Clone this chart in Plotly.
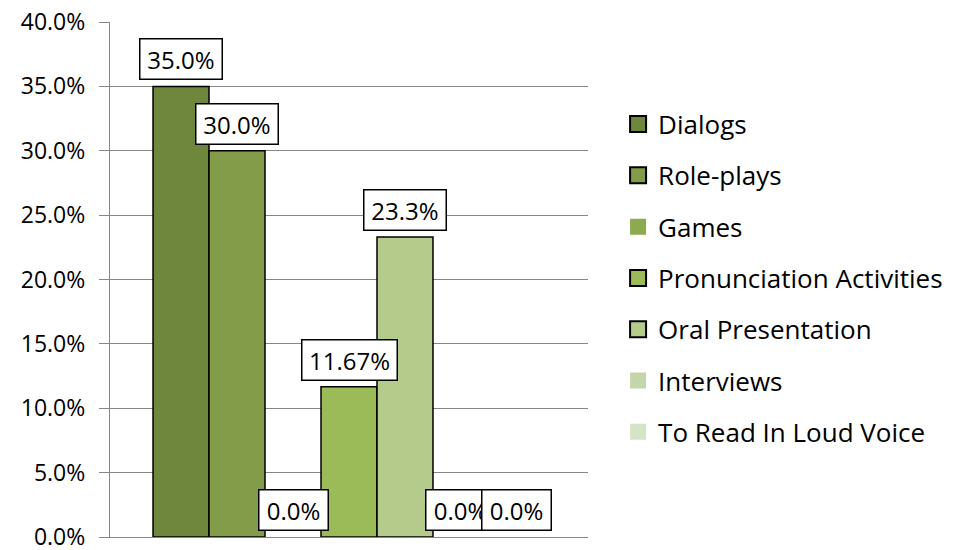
import plotly.graph_objects as go

series = ["Dialogs", "Role-plays", "Games", "Pronunciation Activities",
          "Oral Presentation", "Interviews", "To Read In Loud Voice"]
values = [0.35, 0.30, 0.0, 0.1167, 0.233, 0.0, 0.0]
labels = ["35.0%", "30.0%", "0.0%", "11.67%", "23.3%", "0.0%", "0.0%"]
colors = ["#6F863D", "#829C4A", "#8DAA50", "#9BBB59", "#B4CB8C", "#C4D5AA", "#D7E3C7"]
outlined = [True, True, False, True, True, False, False]

FONT = "Open Sans"
bargap = 0.18
n = len(series)
group_w = 1 - bargap

fig = go.Figure()
for i, (name, v, c, o) in enumerate(zip(series, values, colors, outlined)):
    line = dict(color="#000000", width=1.5 if o else 0)
    fig.add_trace(go.Bar(
        x=[0], y=[v], name=name, marker=dict(color=c, line=line),
        legendgroup=name, showlegend=False,
    ))
    # legend entry with a larger square swatch
    fig.add_trace(go.Scatter(
        x=[None], y=[None], name=name, mode="markers", legendgroup=name,
        marker=dict(symbol="square", size=16, color=c,
                    line=dict(color="#000000", width=2 if o else 0)),
        showlegend=True,
    ))

annotations = []
for i, (v, lab) in enumerate(zip(values, labels)):
    xc = -group_w / 2 + (i + 0.5) * group_w / n
    annotations.append(dict(
        x=xc, y=v, xref="x", yref="y", text=lab, showarrow=False,
        yanchor="middle", yshift=27,
        font=dict(family=FONT, size=24, color="#000000"),
        bgcolor="#FFFFFF", bordercolor="#000000", borderwidth=1.5,
        borderpad=6, width=13 * len(lab) + 4, height=27,
    ))

fig.update_layout(
    width=962, height=550,
    margin=dict(l=110, r=374, t=22, b=13, autoexpand=False),
    paper_bgcolor="#FFFFFF", plot_bgcolor="#FFFFFF",
    barmode="group", bargap=bargap, bargroupgap=0,
    font=dict(family=FONT, size=24, color="#000000"),
    showlegend=True,
    legend=dict(
        xref="container", yref="container", x=0.6425, y=0.817,
        xanchor="left", yanchor="top", maxheight=1,
        font=dict(family=FONT, size=26, color="#000000"),
        tracegroupgap=14.5, traceorder="grouped", itemwidth=30,
        bgcolor="rgba(0,0,0,0)",
    ),
    annotations=annotations,
)
fig.update_xaxes(
    range=[-0.5, 0.5], showticklabels=False, showgrid=False, zeroline=False,
    showline=True, linecolor="#868686", linewidth=1.3, ticks="", automargin=False,
)
fig.update_yaxes(
    range=[0, 0.4], dtick=0.05, tickformat=".1%",
    showgrid=True, gridcolor="#868686", gridwidth=1.3,
    showline=True, linecolor="#868686", linewidth=1.3,
    ticks="outside", ticklen=10, tickcolor="#868686", tickwidth=1.3,
    zeroline=False, automargin=False, ticklabeloverflow="allow",
    ticklabelstandoff=9,
    tickfont=dict(family=FONT, size=23, color="#000000"),
)

fig.write_html("out.html", config={"displayModeBar": False},
               post_script="document.body.style.margin='0';")
